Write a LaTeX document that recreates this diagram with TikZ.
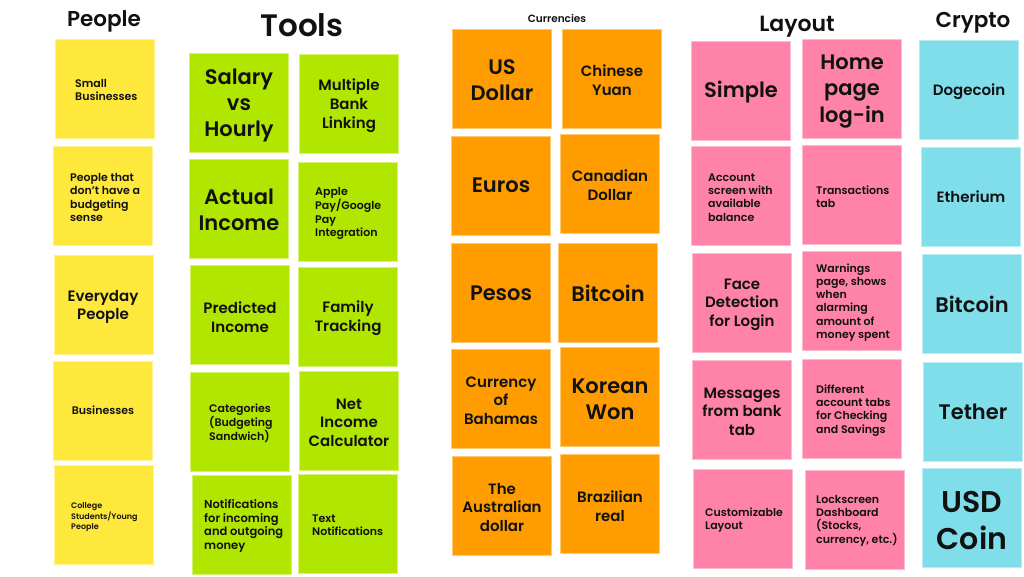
\documentclass[tikz,border=0pt]{standalone}
\usepackage{fontspec}
\setmainfont{Poppins}[BoldFont={Poppins SemiBold}]
\definecolor{cyel}{HTML}{FFE83C}
\definecolor{cgrn}{HTML}{B0E600}
\definecolor{corg}{HTML}{FF9C00}
\definecolor{cpnk}{HTML}{FF82A8}
\definecolor{ccyn}{HTML}{80DEEA}
\definecolor{ctxt}{HTML}{111111}
\newcommand\fsz[2]{\fontsize{#1}{#2}\selectfont\bfseries}
\tikzset{
  note/.style={draw=#1!55!white, line width=0.8pt, fill=#1, minimum width=99pt, minimum height=99pt, anchor=north west, inner sep=0pt},
  yel/.style={note=cyel},
  grn/.style={note=cgrn},
  org/.style={note=corg},
  pnk/.style={note=cpnk},
  cyn/.style={note=ccyn},
  ct/.style={inner sep=0pt, align=center, text=ctxt, anchor=center, yshift=-2pt},
  lt/.style={inner sep=0pt, align=left, text=ctxt, anchor=west, yshift=-1.5pt},
  nd/.style={yshift=2pt},
  big/.style={font=\fsz{21}{26}},
  mid/.style={font=\fsz{15}{18.5}},
  sml/.style={font=\fsz{11}{13.3}},
  ttl/.style={inner sep=0pt, text=ctxt, anchor=center}
}
\begin{document}
\begin{tikzpicture}[x=1pt,y=-1pt]
\useasboundingbox[fill=white] (0,0) rectangle (1024,576);
% titles
\node[ttl, font=\fsz{21.5}{25}] (hpeople) at (104,21) {People};
\node[ttl, font=\fsz{31}{36}] (htools) at (302,25) {Tools};
\node[ttl, font=\fsz{10.5}{13}] (hcur) at (557,18) {Currencies};
\node[ttl, font=\fsz{22}{26}] (hlay) at (797,27) {Layout};
\node[ttl, font=\fsz{21.5}{25}] (hcry) at (973,23) {Crypto};
% People
\node[yel] (p1) at (55,39) {};
\node[yel] (p2) at (53,146) {};
\node[yel] (p3) at (54,255) {};
\node[yel] (p4) at (53,361) {};
\node[yel] (p5) at (54,465) {};
\node[lt, font=\fsz{11}{13}] (p1t) at (75,88.5) {Small\\Businesses};
\node[lt, font=\fsz{11}{13.5}] (p2t) at (70,196) {People that\\don't have a\\budgeting\\sense};
\node[ct, mid] (p3t) at (103,305) {Everyday\\People};
\node[ct, sml, nd] (p4t) at (103,410) {Businesses};
\node[lt, font=\fsz{8}{9.6}] (p5t) at (71,515.5) {College\\Students/Young\\People};
% Tools
\node[grn] (t1) at (189,53) {};
\node[grn] (t2) at (299,54) {};
\node[grn] (t3) at (189,159) {};
\node[grn] (t4) at (298,162) {};
\node[grn] (t5) at (190,265) {};
\node[grn] (t6) at (298,267) {};
\node[grn] (t7) at (190,372) {};
\node[grn] (t8) at (299,371) {};
\node[grn] (t9) at (192,475) {};
\node[grn] (t10) at (298,474) {};
\node[ct, big] (t1t) at (239,103) {Salary\\vs\\Hourly};
\node[ct, font=\fsz{15}{19}] (t2t) at (349,104) {Multiple\\Bank\\Linking};
\node[ct, big] (t3t) at (239,208) {Actual\\Income};
\node[lt, sml] (t4t) at (315,212) {Apple\\Pay/Google\\Pay\\Integration};
\node[ct, mid] (t5t) at (240,315) {Predicted\\Income};
\node[ct, mid] (t6t) at (348,316) {Family\\Tracking};
\node[lt, font=\fsz{11}{13}] (t7t) at (209,422) {Categories\\(Budgeting\\Sandwich)};
\node[ct, mid] (t8t) at (349,420.5) {Net\\Income\\Calculator};
\node[lt, font=\fsz{11.5}{13.6}] (t9t) at (204,524.5) {Notifications\\for incoming\\and outgoing\\money};
\node[lt, font=\fsz{11}{13}] (t10t) at (312,523.5) {Text\\Notifications};
% Currencies
\node[org] (c1) at (452,29) {};
\node[org] (c2) at (562,29) {};
\node[org] (c3) at (451,136) {};
\node[org] (c4) at (560,134) {};
\node[org] (c5) at (451,243) {};
\node[org] (c6) at (558,243) {};
\node[org] (c7) at (451,349) {};
\node[org] (c8) at (560,347) {};
\node[org] (c9) at (452,456) {};
\node[org] (c10) at (560,454) {};
\node[ct, big] (c1t) at (502,78) {US\\Dollar};
\node[ct, font=\fsz{15}{19}] (c2t) at (612,78.5) {Chinese\\Yuan};
\node[ct, big, nd] (c3t) at (501,185) {Euros};
\node[ct, font=\fsz{15}{19}] (c4t) at (610,183.5) {Canadian\\Dollar};
\node[ct, big, nd] (c5t) at (501,293) {Pesos};
\node[ct, big, nd] (c6t) at (608,293) {Bitcoin};
\node[ct, mid] (c7t) at (501,398.5) {Currency\\of\\Bahamas};
\node[ct, big] (c8t) at (610,397) {Korean\\Won};
\node[ct, mid] (c9t) at (502,505.5) {The\\Australian\\dollar};
\node[ct, mid] (c10t) at (610,504) {Brazilian\\real};
% Layout
\node[pnk] (l1) at (691,41) {};
\node[pnk] (l2) at (802,39) {};
\node[pnk] (l3) at (691,146) {};
\node[pnk] (l4) at (802,145) {};
\node[pnk] (l5) at (692,253) {};
\node[pnk] (l6) at (802,251) {};
\node[pnk] (l7) at (692,360) {};
\node[pnk] (l8) at (802,359) {};
\node[pnk] (l9) at (693,469) {};
\node[pnk] (l10) at (805,470) {};
\node[ct, big] (l1t) at (741,90) {Simple};
\node[ct, font=\fsz{21}{26.5}] (l2t) at (852,89.5) {Home\\page\\log-in};
\node[lt, sml] (l3t) at (708,196) {Account\\screen with\\available\\balance};
\node[lt, font=\fsz{11}{13}] (l4t) at (816,195.5) {Transactions\\tab};
\node[ct, mid] (l5t) at (742,302.5) {Face\\Detection\\for Login};
\node[lt, font=\fsz{11}{13.2}] (l6t) at (816,301) {Warnings\\page, shows\\when\\alarming\\amount of\\money spent};
\node[ct, mid] (l7t) at (742,409.5) {Messages\\from bank\\tab};
\node[lt, sml] (l8t) at (816,409) {Different\\account tabs\\for Checking\\and Savings};
\node[lt, font=\fsz{11}{13}] (l9t) at (705,518.5) {Customizable\\Layout};
\node[lt, sml] (l10t) at (816,519) {Lockscreen\\Dashboard\\(Stocks,\\currency, etc.)};
% Crypto
\node[cyn] (k1) at (919,40) {};
\node[cyn] (k2) at (921,147) {};
\node[cyn] (k3) at (922,254) {};
\node[cyn] (k4) at (923,362) {};
\node[cyn] (k5) at (922,468) {};
\node[ct, mid] (k1t) at (969,90) {Dogecoin};
\node[ct, mid, nd] (k2t) at (971,197) {Etherium};
\node[ct, big, nd] (k3t) at (972,304) {Bitcoin};
\node[ct, big, nd] (k4t) at (973,412) {Tether};
\node[ct, font=\fsz{30}{37}] (k5t) at (972,518.5) {USD\\Coin};
\end{tikzpicture}
\end{document}
